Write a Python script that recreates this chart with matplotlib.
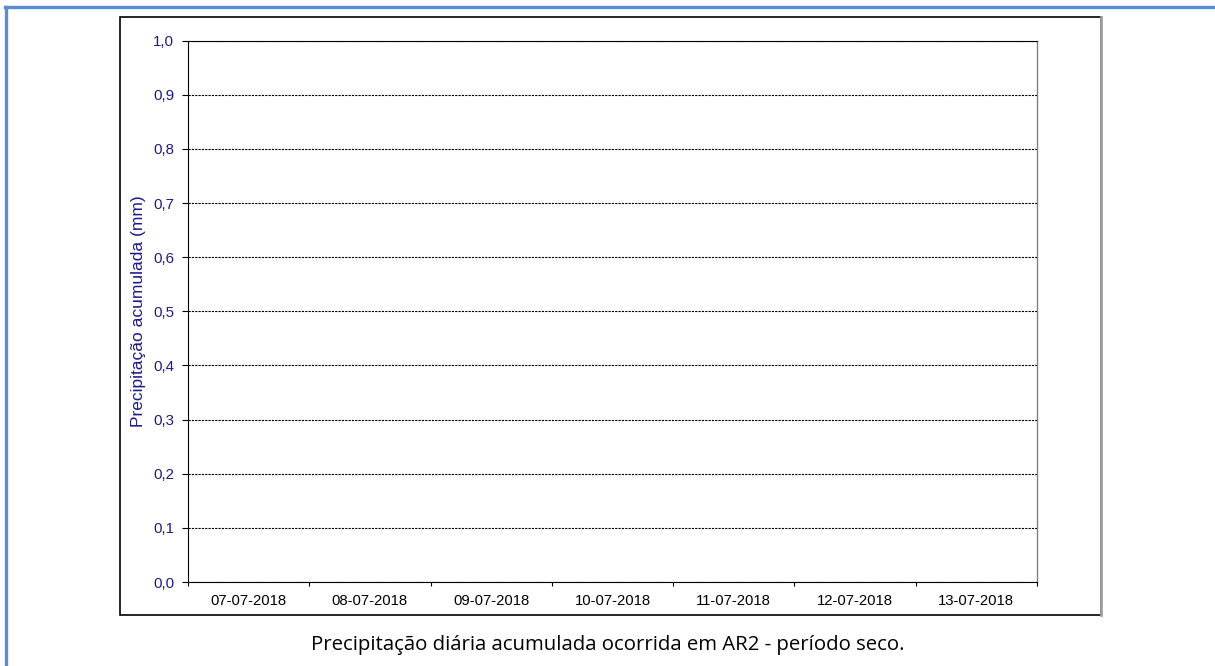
import matplotlib.pyplot as plt
import numpy as np
from matplotlib.patches import Rectangle
from matplotlib.lines import Line2D

# dados: período seco, sem precipitação registrada
datas = ["07-07-2018", "08-07-2018", "09-07-2018", "10-07-2018",
         "11-07-2018", "12-07-2018", "13-07-2018"]
precip = [0.0, 0.0, 0.0, 0.0, 0.0, 0.0, 0.0]
yticks = [0.0, 0.1, 0.2, 0.3, 0.4, 0.5, 0.6, 0.7, 0.8, 0.9, 1.0]

azul = "#1a1a8c"
plt.rcParams['font.family'] = ['Liberation Sans', 'DejaVu Sans']

fig = plt.figure(figsize=(12.15, 6.66), dpi=100)
ax = fig.add_axes([0.1547, 0.1261, 0.6988, 0.8128])

x = np.arange(len(datas))
ax.bar(x, precip, width=0.6, color="#1a1a8c")

ax.set_xlim(-0.5, len(datas) - 0.5)
ax.set_ylim(0, 1.0)

ax.set_yticks(yticks)
ax.set_yticklabels([f"{v:.1f}".replace(".", ",") for v in yticks], color=azul, fontsize=10.8)
ax.tick_params(axis='y', length=4, width=0.8, pad=6, direction='out')

# ticks entre categorias, rótulos no centro
ax.set_xticks(np.arange(-0.5, len(datas)), labels=[""] * (len(datas) + 1))
ax.set_xticks(x, labels=datas, minor=True)
ax.tick_params(axis='x', which='major', length=3, width=0.8, direction='out')
ax.tick_params(axis='x', which='minor', length=0, pad=8.5, labelsize=10.7)

ax.grid(axis='y', color='black', linestyle=(0, (2, 1)), linewidth=0.8)
ax.set_axisbelow(False)
for s in ['left', 'bottom', 'top']:
    ax.spines[s].set_linestyle((0, (2, 1)))
    ax.spines[s].set_linewidth(0.8)
ax.spines['right'].set_linestyle((0, (2, 1)))
ax.spines['right'].set_color('#808080')
ax.spines['right'].set_linewidth(1.0)

ax.set_ylabel("Precipitação acumulada (mm)", color=azul, fontsize=12.5)
ax.yaxis.set_label_coords(-0.049, 0.5)

# moldura do gráfico
fig.add_artist(Rectangle((120 / 1215, 51 / 666), 981 / 1215, 598 / 666,
                         transform=fig.transFigure, fill=False,
                         edgecolor='black', linewidth=1.2))
fig.add_artist(Line2D([1101 / 1215, 1101 / 1215], [51 / 666, 649 / 666],
                      transform=fig.transFigure, color='#a0a0a0', linewidth=2))

# moldura azul externa
fig.add_artist(Line2D([5 / 1215, 1.0], [1 - 7 / 666, 1 - 7 / 666],
                      transform=fig.transFigure, color='#558ed5', linewidth=2.4))
fig.add_artist(Line2D([6 / 1215, 6 / 1215], [0, 1 - 7 / 666],
                      transform=fig.transFigure, color='#558ed5', linewidth=2.4))

fig.text(608 / 1215, 1 - 645 / 666,
         "Precipitação diária acumulada ocorrida em AR2 - período seco.",
         ha='center', va='center', fontsize=14.7, family=['Open Sans', 'DejaVu Sans'])

plt.savefig("out.png", dpi=100)
plt.close()
